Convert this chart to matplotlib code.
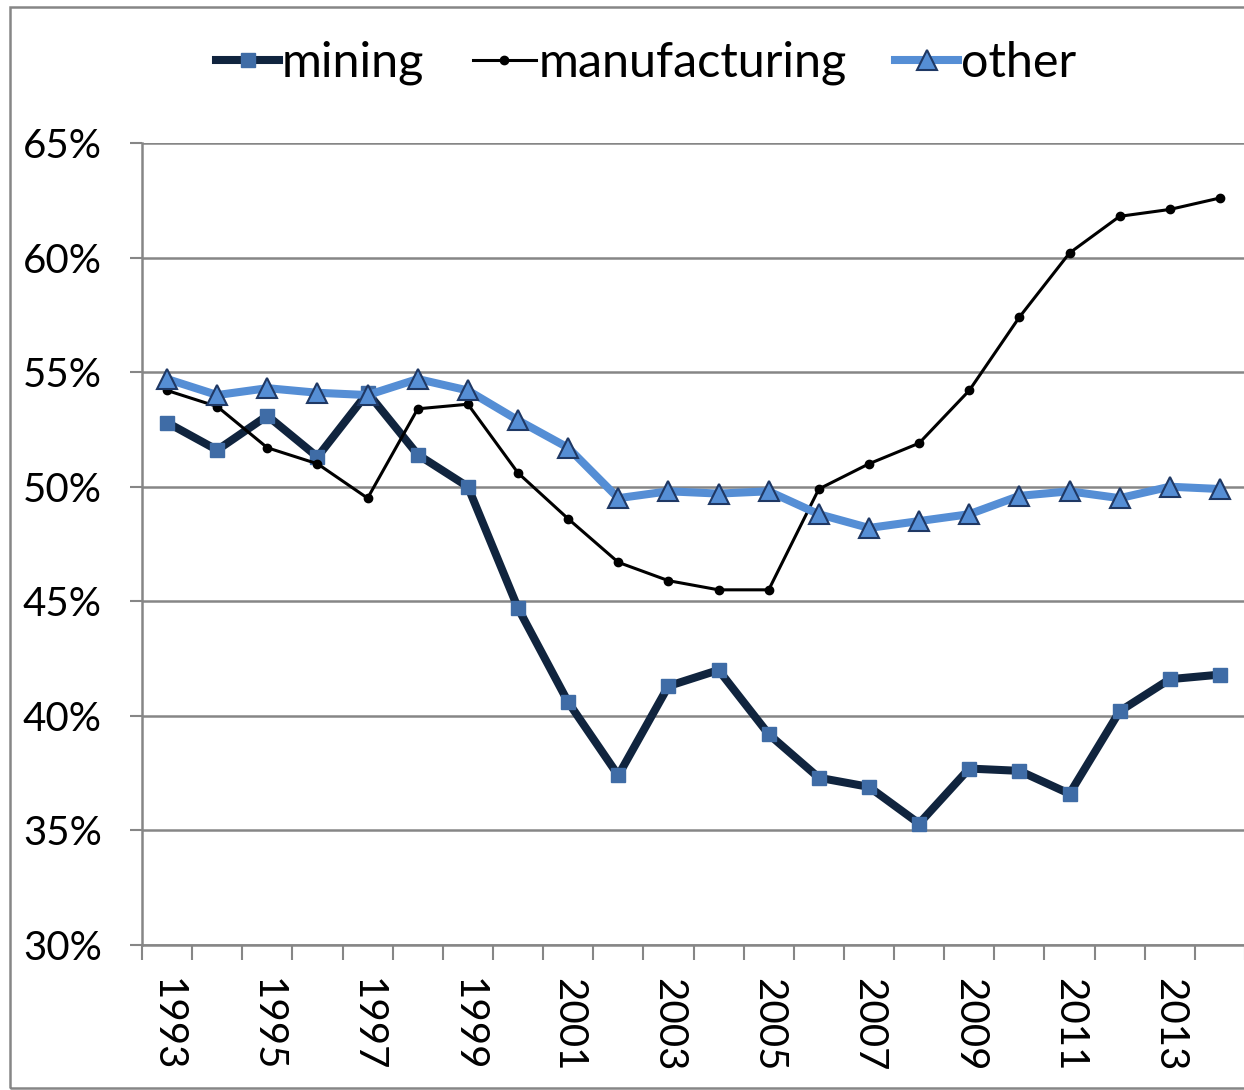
import matplotlib
matplotlib.use("Agg")
import matplotlib.pyplot as plt
import numpy as np
from matplotlib.patches import Rectangle
from matplotlib.ticker import FixedLocator, FuncFormatter

plt.rcParams['font.family'] = ['Lato', 'DejaVu Sans']

years = list(range(1993, 2015))
mining = [52.8, 51.6, 53.1, 51.3, 54.1, 51.4, 50.0, 44.7, 40.6, 37.4, 41.3,
          42.0, 39.2, 37.3, 36.9, 35.3, 37.7, 37.6, 36.6, 40.2, 41.6, 41.8]
manufacturing = [54.2, 53.5, 51.7, 51.0, 49.5, 53.4, 53.6, 50.6, 48.6, 46.7, 45.9,
                 45.5, 45.5, 49.9, 51.0, 51.9, 54.2, 57.4, 60.2, 61.8, 62.1, 62.6]
other = [54.7, 54.0, 54.3, 54.1, 54.0, 54.7, 54.2, 52.9, 51.7, 49.5, 49.8,
         49.7, 49.8, 48.8, 48.2, 48.5, 48.8, 49.6, 49.8, 49.5, 50.0, 49.9]
year_labels = [str(y) for y in years[::2]]

fig = plt.figure(figsize=(12.44, 10.9), dpi=100)
# outer chart frame
fig.patches.append(Rectangle((10 / 1244, 2 / 1090), 1.2, 1081 / 1090,
                             transform=fig.transFigure, fill=False,
                             edgecolor='#868686', linewidth=1.8))

ax = fig.add_axes([142 / 1244, 1 - 945 / 1090, 1103 / 1244, 802 / 1090])
x = np.arange(len(years))

ax.plot(x, mining, color='#10243E', linewidth=5.8, marker='s', markersize=10,
        markerfacecolor='#3F6CA6', markeredgecolor='#3F6CA6', label='mining', zorder=3)
ax.plot(x, manufacturing, color='black', linewidth=2.2, marker='o', markersize=6,
        label='manufacturing', zorder=4)
ax.plot(x, other, color='#558ED5', linewidth=5.8, marker='^', markersize=14,
        markerfacecolor='#558ED5', markeredgecolor='#1F3864', markeredgewidth=1.5,
        label='other', zorder=5)

ax.set_xlim(-0.5, len(years) - 0.5)
ax.set_ylim(30, 65)
ax.set_yticks(np.arange(30, 66, 5))
ax.yaxis.set_major_formatter(FuncFormatter(lambda v, p: '%d%%' % v))
ax.grid(axis='y', color='#868686', linewidth=1.8)
ax.set_axisbelow(True)

# tick marks on category boundaries, labels at every other category
ax.xaxis.set_major_locator(FixedLocator(np.arange(-0.5, len(years), 1.0)))
ax.xaxis.set_minor_locator(FixedLocator(x[::2]))
ax.set_xticklabels([], minor=False)
ax.set_xticklabels(year_labels, minor=True, rotation=-90, fontsize=29)
ax.tick_params(axis='x', which='major', length=11, width=1.5, color='#868686')
ax.tick_params(axis='x', which='minor', length=0, pad=24)
ax.tick_params(axis='y', length=9, width=1.5, color='#868686', labelsize=29, pad=20)

for s in ['top', 'right']:
    ax.spines[s].set_visible(False)
for s in ['left', 'bottom']:
    ax.spines[s].set_color('#868686')
    ax.spines[s].set_linewidth(1.8)

fig.legend(loc='center', bbox_to_anchor=(646 / 1244, 1 - 63 / 1090), ncol=3,
           frameon=False, fontsize=35, handlelength=1.3, handletextpad=0.05,
           columnspacing=1.0)

fig.savefig('out.png', dpi=100)
